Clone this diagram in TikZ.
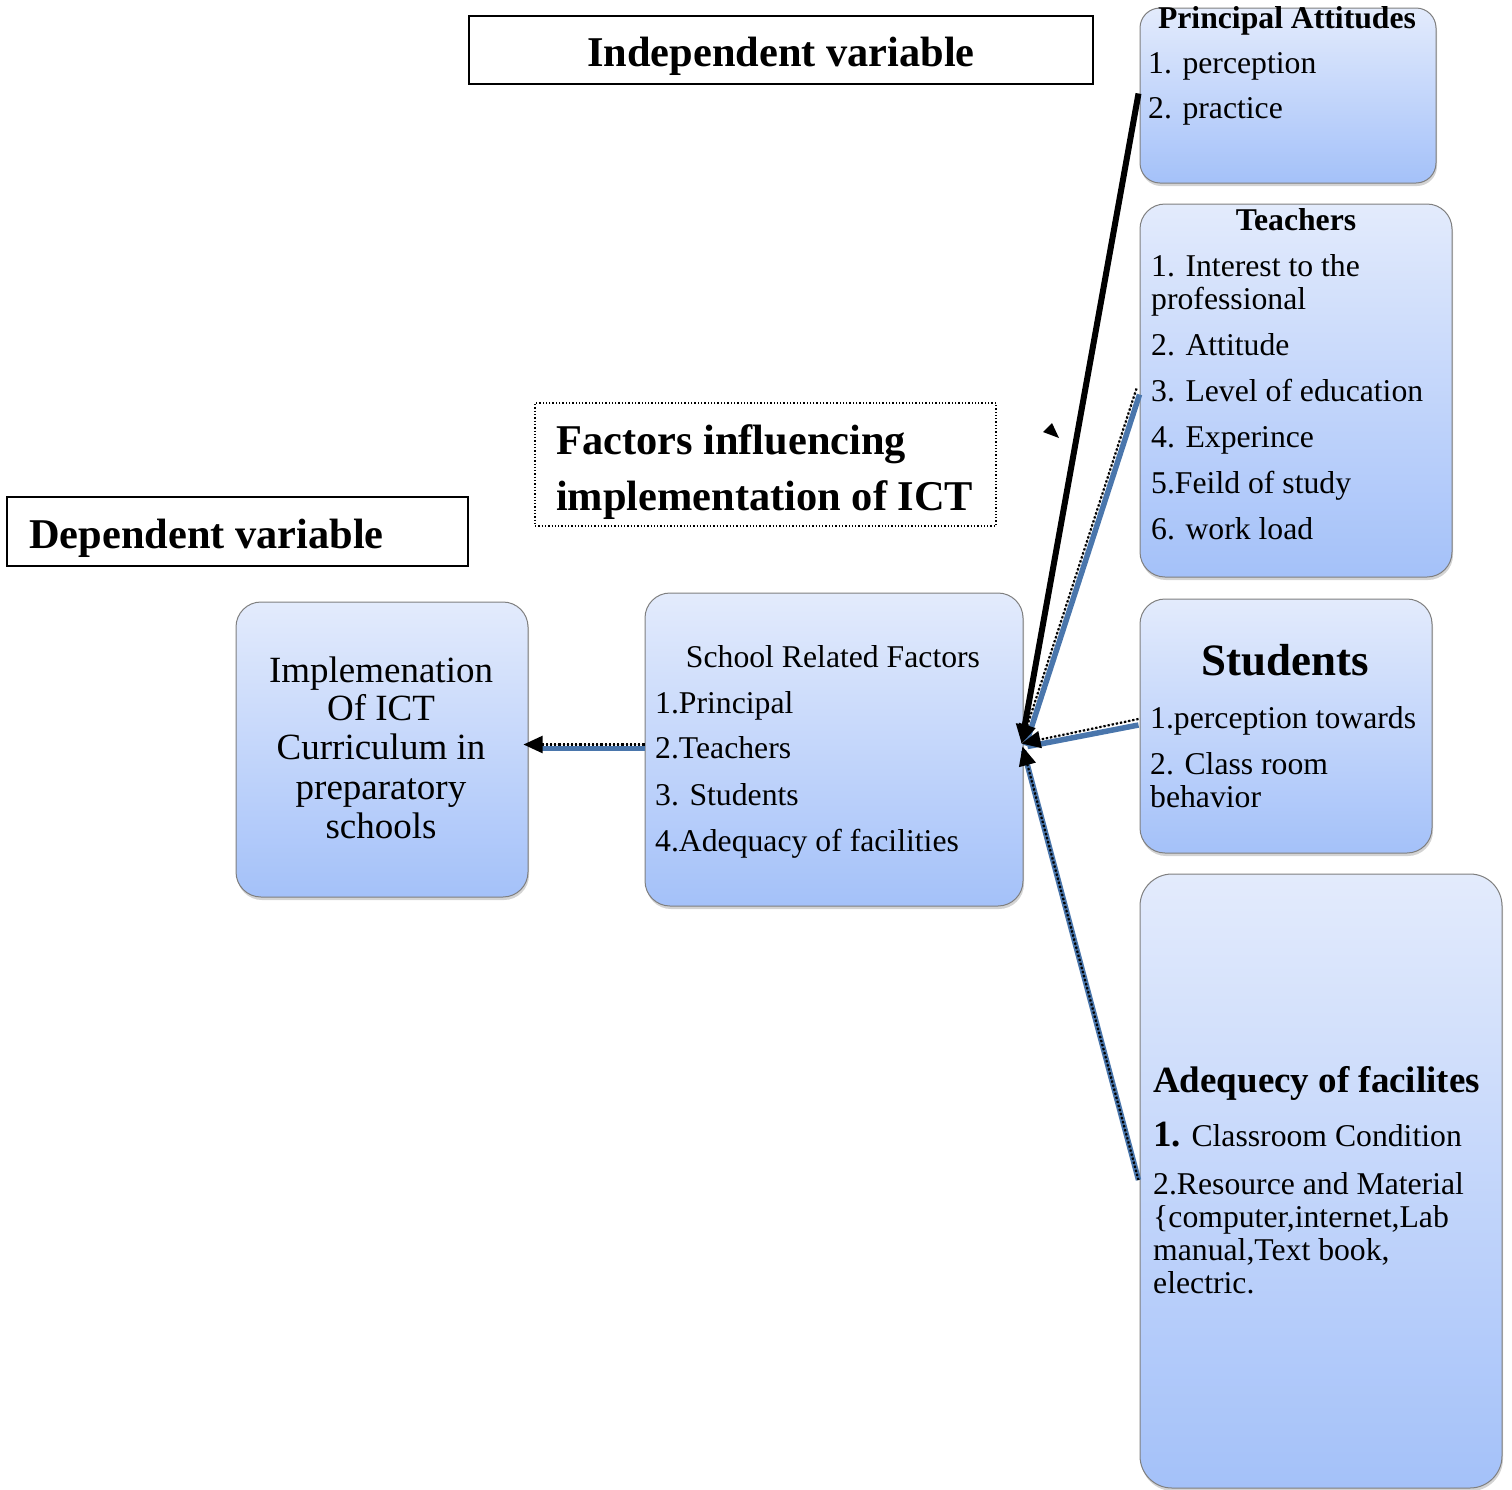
\documentclass[tikz,border=0pt]{standalone}
\usepackage{fontspec}
\setmainfont{Liberation Serif}
\usetikzlibrary{arrows.meta,shadows,calc}
\definecolor{boxtop}{HTML}{E3EBFC}
\definecolor{boxbot}{HTML}{A4C1F9}
\definecolor{boxline}{HTML}{7F7F7F}
\definecolor{linkblue}{HTML}{4A76AC}
\newcommand\bodyf{\fontsize{31.7}{33}\selectfont}
\newcommand\headf{\bfseries\fontsize{42.4}{50}\selectfont}
\newcommand\midf{\fontsize{37}{40}\selectfont}
\begin{document}
\begin{tikzpicture}[x=1pt,y=-1pt,
  fbox/.style={draw=boxline, line width=1pt, rounded corners=25pt, top color=boxtop, bottom color=boxbot,
    drop shadow={shadow xshift=1pt, shadow yshift=-3pt, opacity=0.35}, inner sep=0pt},
  lbox/.style={draw=black, line width=1.6pt, inner sep=0pt},
  tl/.style={anchor=base west, inner sep=0pt, font=\bodyf},
  tc/.style={anchor=base, inner sep=0pt, font=\bodyf},
  tip/.style={-{Triangle[length=19pt,width=17pt]}},
  blink/.style={draw=linkblue, line width=5.5pt},
  dlink/.style={draw=black, line width=2.2pt, dotted}]
\useasboundingbox (0,0) rectangle (1512,1489);

% label boxes
\node[lbox, minimum width=624pt, minimum height=68pt] (indep) at (781,50) {};
\node[anchor=base, inner sep=0pt, font=\headf] (indept) at (781,66) {Independent variable};
\node[lbox, minimum width=461pt, minimum height=69pt] (dep) at (237.5,531.5) {};
\node[anchor=base west, inner sep=0pt, font=\headf] (dept) at (29,548) {Dependent variable};
\node[draw=black, line width=1.3pt, dotted, minimum width=461pt, minimum height=123pt, inner sep=0pt] (fac) at (765.5,464.5) {};
\node[anchor=base west, inner sep=0pt, font=\headf] (fac1) at (556,454) {Factors influencing};
\node[anchor=base west, inner sep=0pt, font=\headf] (fac2) at (556,510) {implementation of ICT};

% Principal
\node[fbox, rounded corners=20pt, minimum width=296pt, minimum height=175pt] (pa) at (1288,95.5) {};
\node[tc, font=\bodyf\bfseries] (pat) at (1287,28) {Principal Attitudes};
\node[tl] (pa1) at (1148,73) {1. perception};
\node[tl] (pa2) at (1148,118) {2. practice};

% Teachers
\node[fbox, minimum width=312pt, minimum height=373pt] (te) at (1296,390.5) {};
\node[tc, font=\bodyf\bfseries] (tet) at (1296,230) {Teachers};
\node[tl] (te1) at (1151,276) {1. Interest to the};
\node[tl] (te1b) at (1151,309) {professional};
\node[tl] (te2) at (1151,355) {2. Attitude};
\node[tl] (te3) at (1151,401) {3. Level of education};
\node[tl] (te4) at (1151,447) {4. Experince};
\node[tl] (te5) at (1151,493) {5.Feild of study};
\node[tl] (te6) at (1151,539) {6. work load};

% Students
\node[fbox, minimum width=292pt, minimum height=254pt] (st) at (1286,726) {};
\node[tc, font=\bfseries\fontsize{44.9}{50}\selectfont] (stt) at (1285,675) {Students};
\node[tl] (st1) at (1150,728) {1.perception towards};
\node[tl] (st2) at (1150,774) {2. Class room};
\node[tl] (st2b) at (1150,807) {behavior};

% Adequacy
\node[fbox, rounded corners=32pt, minimum width=362pt, minimum height=614pt] (ad) at (1321,1181) {};
\node[anchor=base west, inner sep=0pt, font=\midf\bfseries] (adt) at (1153,1092) {Adequecy of facilites};
\node[tl] (ad1) at (1153,1146) {{\midf\bfseries 1.} Classroom Condition};
\node[tl] (ad2) at (1153,1194) {2.Resource and Material};
\node[tl] (ad2b) at (1153,1227) {\{computer,internet,Lab};
\node[tl] (ad2c) at (1153,1260) {manual,Text book,};
\node[tl] (ad2d) at (1153,1293) {electric.};

% School related factors
\node[fbox, minimum width=378pt, minimum height=313pt] (sf) at (834,749.5) {};
\node[tc] (sft) at (833,667) {School Related Factors};
\node[tl] (sf1) at (655,713) {1.Principal};
\node[tl] (sf2) at (655,758) {2.Teachers};
\node[tl] (sf3) at (655,805) {3. Students};
\node[tl] (sf4) at (655,851) {4.Adequacy of facilities};

% Implementation
\node[fbox, minimum width=292pt, minimum height=295pt] (im) at (382,749.5) {};
\node[tc, font=\midf] (im1) at (381,682) {Implemenation};
\node[tc, font=\midf] (im2) at (381,720) {Of ICT};
\node[tc, font=\midf] (im3) at (381,759) {Curriculum in};
\node[tc, font=\midf] (im4) at (381,799) {preparatory};
\node[tc, font=\midf] (im5) at (381,838) {schools};

% connectors
\coordinate (hub) at ($(sf.east)+(-2,-6)$);
\coordinate (paE) at ($(pa.west)+(-1,-2)$);
\draw[tip, line width=6pt, draw=black, fill=black] (paE) -- (hub);
\coordinate (teE) at ($(te.west)+(-1,0)$);
\draw[blink] ($(teE)+(1,4)$) -- ($(hub)+(4,2)$);
\draw[dlink, tip, fill=black] ($(teE)+(-2,-2)$) -- (hub);
\coordinate (stE) at ($(st.west)+(-1,-2)$);
\draw[blink] ($(stE)+(0,1)$) -- ($(hub)+(6,3)$);
\draw[dlink, tip, fill=black] ($(stE)+(0,-5)$) -- (hub);
\coordinate (adE) at ($(ad.west)+(-1,-1)$);
\coordinate (hub2) at ($(hub)+(1,3)$);
\draw[blink] (adE) -- ($(hub2)+(1,4)$);
\draw[dlink, tip, fill=black] (adE) -- (hub2);

% to implementation
\coordinate (sfW) at ($(sf.west)+(0,-5)$);
\coordinate (imE) at ($(im.east)+(-5,-5)$);
\draw[draw=linkblue, line width=5.5pt] ($(sf.west)+(0,-1)$) -- ($(im.east)+(12,-1)$);
\draw[dlink, tip, fill=black] (sfW) -- (imE);

% stray arrowhead
\fill[black] (1052,423) -- (1043,432) -- (1059,438) -- cycle;
\end{tikzpicture}
\end{document}
